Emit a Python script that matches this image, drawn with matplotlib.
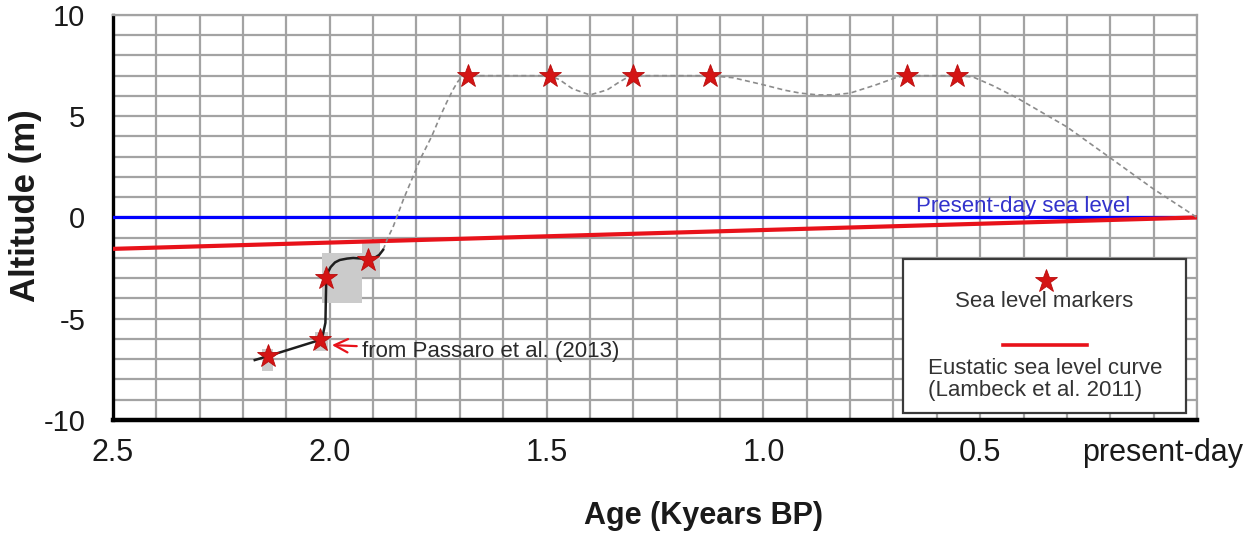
import numpy as np
import matplotlib.pyplot as plt
from matplotlib.patches import Rectangle
from matplotlib.transforms import ScaledTranslation

plt.rcParams['font.family'] = ['Liberation Sans', 'DejaVu Sans']
plt.rcParams['axes.unicode_minus'] = False

# sea level markers (age in kyr BP, altitude in m)
marker_age = [2.143, 2.023, 2.009, 1.912, 1.681, 1.492, 1.301, 1.123, 0.669, 0.554]
marker_alt = [-6.85, -6.05, -3.0, -2.1, 7.0, 7.0, 7.0, 7.0, 7.0, 7.0]

# Passaro et al. (2013) curve
passaro_age = [2.173, 2.143, 2.023, 2.016, 2.010, 2.009, 2.008, 2.004, 1.998, 1.988,
               1.977, 1.960, 1.946, 1.912, 1.895, 1.886, 1.877]
passaro_alt = [-7.04, -6.85, -6.05, -5.8, -5.2, -4.0, -3.0, -2.7, -2.45, -2.22,
               -2.1, -2.03, -2.0, -2.05, -1.97, -1.85, -1.6]

# uncertainty boxes: age_old, age_young, alt_low, alt_high
box_age_old = [2.157, 2.034, 2.018, 1.926]
box_age_young = [2.131, 2.004, 1.926, 1.884]
box_alt_low = [-7.6, -6.6, -4.2, -2.95]
box_alt_high = [-6.5, -5.65, -1.75, -1.1]

# inferred relative sea level (dashed)
dashed_age = [1.877, 1.866, 1.854, 1.83, 1.79, 1.765, 1.746, 1.73, 1.716, 1.705, 1.695, 1.681,
              1.492, 1.47, 1.44, 1.40, 1.36, 1.335, 1.315, 1.301,
              1.123, 1.07, 1.0, 0.95, 0.915, 0.874, 0.84, 0.80, 0.74, 0.69, 0.669,
              0.554, 0.517, 0.47, 0.415, 0.30, 0.20, 0.10, 0.0]
dashed_alt = [-1.6, -1.0, -0.47, 0.9, 2.94, 4.0, 4.96, 5.7, 6.3, 6.7, 6.94, 7.0,
              7.0, 6.8, 6.35, 6.05, 6.3, 6.65, 6.9, 7.0,
              7.0, 6.9, 6.55, 6.28, 6.14, 6.05, 6.05, 6.14, 6.55, 6.94, 7.0,
              7.0, 6.94, 6.5, 5.9, 4.47, 2.94, 1.4, 0.0]

# eustatic curve (Lambeck et al. 2011) and present-day level
eustatic_age = [2.5, 0.0]
eustatic_alt = [-1.55, 0.0]
present_age = [2.5, 0.0]
present_alt = [0.0, 0.0]

xtick_vals = [2.5, 2.0, 1.5, 1.0, 0.5, 0.0]
xtick_labels = ['2.5', '2.0', '1.5', '1.0', '0.5', 'present-day']
ytick_vals = [-10, -5, 0, 5, 10]

star_red = '#d41414'

fig = plt.figure(figsize=(12.55, 5.33), dpi=100)
ax = fig.add_axes([0.090, 0.212, 0.8638, 0.760])

ax.set_xlim(2.5, 0)
ax.set_ylim(-10, 10)

# grid every 0.1 kyr and 1 m
ax.set_xticks(xtick_vals)
ax.set_xticklabels(xtick_labels)
ax.set_xticks(np.arange(0, 2.51, 0.1), minor=True)
ax.set_yticks(ytick_vals)
ax.set_yticks(np.arange(-10, 11, 1), minor=True)
ax.grid(True, which='both', color='#a3a3a3', lw=1.6)
ax.set_axisbelow(True)
ax.tick_params(which='both', length=0)
ax.tick_params(axis='y', labelsize=21, pad=20, labelcolor='#1a1a1a')
ax.tick_params(axis='x', labelsize=22, pad=13, labelcolor='#1a1a1a')

for s in ['top', 'right']:
    ax.spines[s].set_color('#a3a3a3')
    ax.spines[s].set_linewidth(1.6)
ax.spines['left'].set_linewidth(2.4)
ax.spines['bottom'].set_linewidth(3.2)

lbl = ax.get_xticklabels()[-1]
lbl.set_transform(lbl.get_transform() + ScaledTranslation(-0.34, 0, fig.dpi_scale_trans))

ax.set_ylabel('Altitude (m)', fontsize=25, fontweight='bold', color='#1a1a1a')
ax.yaxis.set_label_coords(-0.0655, 0.528)
ax.set_xlabel('Age (Kyears BP)', fontsize=22, fontweight='bold', color='#1a1a1a')
ax.xaxis.set_label_coords(0.545, -0.2)

ax.plot(present_age, present_alt, color='#0000ff', lw=2.3, zorder=3)
ax.plot(eustatic_age, eustatic_alt, color='#e8121a', lw=3.0, zorder=3)
ax.text(0.401, 0.52, 'Present-day sea level', color='#3333cc', fontsize=16,
        va='center', ha='center', zorder=4)

for a0, a1, lo, hi in zip(box_age_old, box_age_young, box_alt_low, box_alt_high):
    ax.add_patch(Rectangle((a1, lo), a0 - a1, hi - lo, facecolor='#cbcbcb',
                           edgecolor='none', zorder=2))

ax.plot(dashed_age, dashed_alt, color='#8c8c8c', lw=1.2, dashes=(3, 2), zorder=3)
ax.plot(passaro_age, passaro_alt, color='#1e1e1e', lw=1.8, zorder=4)
ax.plot(marker_age, marker_alt, ls='none', marker='*', ms=17, color=star_red,
        mec='#b80c0c', mew=0.6, zorder=5)

ax.annotate('from Passaro et al. (2013)', xy=(1.995, -6.3), xytext=(1.925, -6.64),
            fontsize=16, color='#2a2a2a', va='center', ha='left',
            arrowprops=dict(arrowstyle='->,head_length=0.6,head_width=0.3',
                            color='#e8121a', lw=1.6, shrinkA=2, shrinkB=0))

# key box
ax.add_patch(Rectangle((0.7288, 0.0173), 0.2611, 0.3802, transform=ax.transAxes,
                       facecolor='white', edgecolor='#3a3a3a', lw=1.6, zorder=6))
ax.plot([0.8607], [0.343], transform=ax.transAxes, ls='none', marker='*', ms=17,
        color=star_red, mec='#b80c0c', mew=0.6, zorder=7)
ax.text(0.8589, 0.2914, 'Sea level markers', transform=ax.transAxes, fontsize=16,
        color='#333333', ha='center', va='center', zorder=7)
ax.plot([0.821, 0.8985], [0.185, 0.185], transform=ax.transAxes, color='#e8121a',
        lw=2.6, zorder=7)
ax.text(0.8598, 0.100, 'Eustatic sea level curve\n(Lambeck et al. 2011)',
        transform=ax.transAxes, fontsize=16, color='#333333', ha='center',
        va='center', multialignment='left', linespacing=1.1, zorder=7)

fig.savefig('out.png', dpi=100)
